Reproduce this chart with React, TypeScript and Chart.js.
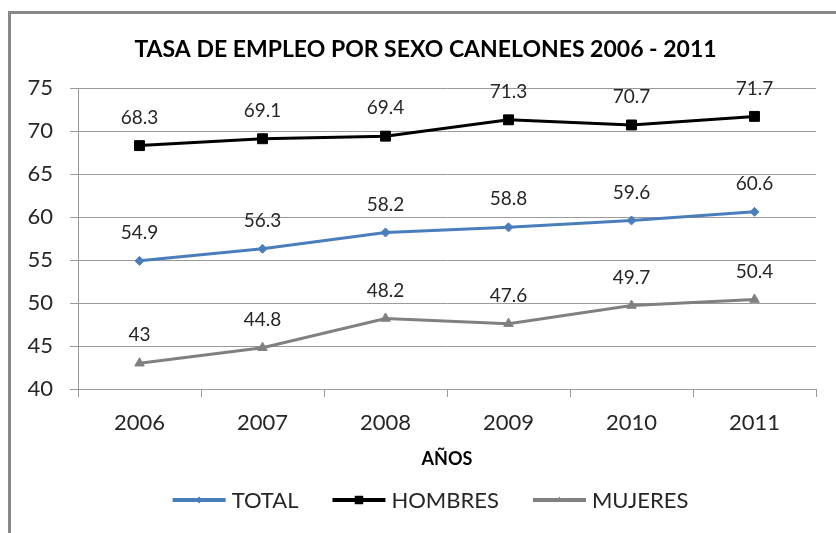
import React, { useEffect, useRef } from "react";
import { Chart, registerables } from "chart.js";

Chart.register(...registerables);

const years = ["2006", "2007", "2008", "2009", "2010", "2011"];
const totalValues = [54.9, 56.3, 58.2, 58.8, 59.6, 60.6];
const hombresValues = [68.3, 69.1, 69.4, 71.3, 70.7, 71.7];
const mujeresValues = [43, 44.8, 48.2, 47.6, 49.7, 50.4];
const seriesNames = ["TOTAL", "HOMBRES", "MUJERES"];
const titleText = "TASA DE EMPLEO POR SEXO CANELONES 2006 - 2011";
const xTitle = "AÑOS";

const FONT = "Lato, 'Open Sans', sans-serif";
const TEXT = "#262626";
const GRID = "#9a9a9a";
const colors = ["#4a7ebb", "#000000", "#808080"];
const styles = ["rectRot", "rect", "triangle"];
const radii = [4.5, 7, 5.5];

const dataLabels = {
  id: "dataLabels",
  afterDatasetsDraw(chart: any) {
    const ctx = chart.ctx;
    ctx.save();
    ctx.font = `19px ${FONT}`;
    ctx.fillStyle = TEXT;
    ctx.textAlign = "center";
    ctx.textBaseline = "middle";
    chart.data.datasets.forEach((ds: any, i: number) => {
      const meta = chart.getDatasetMeta(i);
      meta.data.forEach((pt: any, j: number) => {
        ctx.fillText(String(ds.data[j]), pt.x, pt.y - 28);
      });
    });
    ctx.restore();
  },
};

const chartTitle = {
  id: "chartTitle",
  afterDraw(chart: any) {
    const ctx = chart.ctx;
    ctx.save();
    ctx.font = `bold 23px ${FONT}`;
    ctx.fillStyle = "#000";
    ctx.textAlign = "center";
    ctx.textBaseline = "middle";
    ctx.fillText(titleText, chart.width / 2 + 2, 36);
    ctx.restore();
  },
};

function drawMarker(ctx: CanvasRenderingContext2D, style: string, r: number, x: number, y: number) {
  ctx.beginPath();
  if (style === "rect") {
    const s = Math.SQRT1_2 * r;
    ctx.rect(x - s, y - s, 2 * s, 2 * s);
  } else if (style === "rectRot") {
    ctx.moveTo(x - r, y);
    ctx.lineTo(x, y - r);
    ctx.lineTo(x + r, y);
    ctx.lineTo(x, y + r);
    ctx.closePath();
  } else {
    ctx.moveTo(x - r, y + r * 0.6);
    ctx.lineTo(x, y - r);
    ctx.lineTo(x + r, y + r * 0.6);
    ctx.closePath();
  }
  ctx.fill();
}

const customLegend = {
  id: "customLegend",
  afterDraw(chart: any) {
    const ctx = chart.ctx;
    const y = 486;
    const lineW = 53;
    const gap = 6;
    const spacing = 34;
    ctx.save();
    ctx.font = `22px ${FONT}`;
    const widths = seriesNames.map((n) => ctx.measureText(n).width);
    const total = widths.reduce((a, w) => a + lineW + gap + w, 0) + spacing * (seriesNames.length - 1);
    let x = chart.width / 2 + 7 - total / 2;
    seriesNames.forEach((name, i) => {
      ctx.strokeStyle = colors[i];
      ctx.lineWidth = 4;
      ctx.beginPath();
      ctx.moveTo(x, y);
      ctx.lineTo(x + lineW, y);
      ctx.stroke();
      ctx.fillStyle = colors[i];
      const r = i === 1 ? 6 : 3.5;
      drawMarker(ctx, styles[i], r, x + lineW / 2, y);
      ctx.fillStyle = TEXT;
      ctx.textAlign = "left";
      ctx.textBaseline = "middle";
      ctx.fillText(name, x + lineW + gap, y + 1);
      x += lineW + gap + widths[i] + spacing;
    });
    ctx.restore();
  },
};

export default function App() {
  const ref = useRef<HTMLCanvasElement>(null);
  useEffect(() => {
    const seriesData = [totalValues, hombresValues, mujeresValues];
    const chart = new Chart(ref.current!, {
      type: "line",
      data: {
        labels: years,
        datasets: seriesNames.map((name, i) => ({
          label: name,
          data: seriesData[i],
          borderColor: colors[i],
          backgroundColor: colors[i],
          borderWidth: 3,
          pointStyle: styles[i] as any,
          pointRadius: radii[i],
          pointBorderWidth: 1,
          pointBackgroundColor: colors[i],
          pointBorderColor: colors[i],
          tension: 0,
        })),
      },
      options: {
        animation: false,
        responsive: false,
        devicePixelRatio: 1,
        layout: { padding: { left: 0, right: 20, top: 74, bottom: 63 } },
        plugins: {
          legend: { display: false },
          tooltip: { enabled: false },
          title: { display: false },
        },
        scales: {
          x: {
            offset: true,
            grid: {
              offset: true,
              drawOnChartArea: false,
              drawTicks: true,
              tickLength: 8,
              color: GRID,
            },
            border: { color: GRID, width: 1 },
            ticks: { color: TEXT, font: { family: FONT, size: 22 }, padding: 13, maxRotation: 0 },
            title: {
              display: true,
              text: xTitle,
              color: "#000",
              font: { family: FONT, size: 18, weight: "bold" },
              padding: { top: 0, bottom: 0 },
            },
            afterFit(scale: any) {
              scale.height = 81;
            },
          },
          y: {
            min: 40,
            max: 75,
            ticks: { stepSize: 5, color: TEXT, font: { family: FONT, size: 22 }, padding: 17 },
            grid: { color: GRID, tickLength: 8, lineWidth: 1 },
            border: { color: GRID, width: 1 },
            afterFit(scale: any) {
              scale.width = 67;
            },
          },
        },
      },
      plugins: [dataLabels, chartTitle, customLegend],
    });
    return () => chart.destroy();
  }, []);
  return (
    <div
      style={{
        position: "absolute",
        left: 8,
        top: 11,
        width: 828,
        height: 522,
        borderLeft: "3px solid #878787",
        borderTop: "3px solid #878787",
        background: "#fff",
        overflow: "hidden",
      }}
    >
      <canvas ref={ref} width={825} height={519} style={{ display: "block" }} />
    </div>
  );
}
